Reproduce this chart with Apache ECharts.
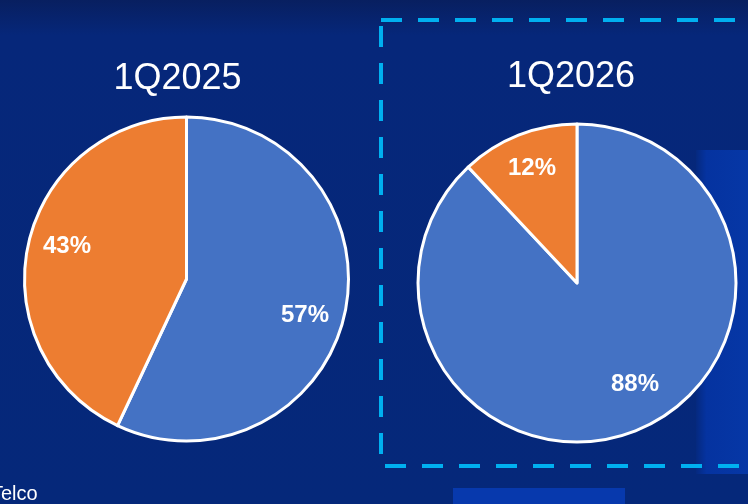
<!DOCTYPE html>
<html>
<head>
<meta charset="utf-8">
<script src="https://cdn.jsdelivr.net/npm/echarts@6/dist/echarts.min.js"></script>
<style>
html,body{margin:0;padding:0;background:#05287a;}
#c{width:748px;height:504px;}
</style>
</head>
<body>
<div id="c"></div>
<script>
// Data
var periods = ['1Q2025', '1Q2026'];
var segmentNames = ['Blue segment', 'Orange segment'];
var values2025 = [57, 43];
var values2026 = [88, 12];
var footnote = 'Telco';

var BLUE = '#4472c4', ORANGE = '#ed7d31';

function pieData(vals) {
  return vals.map(function (v, i) {
    return { name: segmentNames[i], value: v, itemStyle: { color: i === 0 ? BLUE : ORANGE } };
  });
}
function labelData(vals, offs) {
  return vals.map(function (v, i) {
    return { name: segmentNames[i], value: v, label: { offset: offs[i] } };
  });
}

var pies = [
  { center: [186.5, 279], r: 162, vals: values2025, offs: [[-3, 9], [2, -5]] },
  { center: [577, 283], r: 159, vals: values2026, offs: [[13, -12], [0, -1]] }
];

var series = [];
pies.forEach(function (p) {
  series.push({
    type: 'pie',
    center: p.center,
    radius: [0, p.r],
    startAngle: 90,
    clockwise: true,
    silent: true,
    animation: false,
    label: { show: false },
    labelLine: { show: false },
    itemStyle: { borderColor: '#ffffff', borderWidth: 3 },
    data: pieData(p.vals)
  });
  series.push({
    type: 'pie',
    center: p.center,
    radius: [p.r * 0.5, p.r],
    startAngle: 90,
    clockwise: true,
    silent: true,
    animation: false,
    itemStyle: { color: 'rgba(0,0,0,0)', borderWidth: 0 },
    label: {
      show: true,
      position: 'inside',
      formatter: '{c}%',
      color: '#ffffff',
      fontFamily: 'Liberation Sans, Arial, sans-serif',
      fontWeight: 'bold',
      fontSize: 24
    },
    labelLine: { show: false },
    data: labelData(p.vals, p.offs)
  });
});

var chart = echarts.init(document.getElementById('c'), null, { renderer: 'canvas' });
chart.setOption({
  backgroundColor: {
    type: 'linear', x: 0, y: 0, x2: 0, y2: 1,
    colorStops: [
      { offset: 0, color: '#081f60' },
      { offset: 0.07, color: '#06277a' },
      { offset: 1, color: '#05287a' }
    ]
  },
  animation: false,
  graphic: [
    { type: 'rect', z: -10, shape: { x: 696, y: 150, width: 52, height: 324 },
      style: { fill: { type: 'linear', x: 0, y: 0, x2: 1, y2: 0, colorStops: [
        { offset: 0, color: '#05297f' }, { offset: 0.2, color: '#0533a0' }, { offset: 1, color: '#0637a6' }] } } },
    { type: 'rect', z: -10, shape: { x: 453, y: 488, width: 172, height: 16 },
      style: { fill: '#0739ad' } },
    { type: 'rect', z: 5, shape: { x: 381, y: 20, width: 400, height: 446 },
      style: { fill: 'none', stroke: '#00b0f0', lineWidth: 4, lineDash: [21, 16] } },
    { type: 'text', z: 10, x: 177.5, y: 79,
      style: { text: periods[0], fill: '#ffffff', font: '36px "Liberation Sans", Arial, sans-serif',
        textAlign: 'center', textVerticalAlign: 'middle', align: 'center', verticalAlign: 'middle' } },
    { type: 'text', z: 10, x: 571, y: 77,
      style: { text: periods[1], fill: '#ffffff', font: '36px "Liberation Sans", Arial, sans-serif',
        textAlign: 'center', textVerticalAlign: 'middle', align: 'center', verticalAlign: 'middle' } },
    { type: 'text', z: 10, x: -9, y: 494,
      style: { text: footnote, fill: '#ffffff', font: '20px "Liberation Sans", Arial, sans-serif',
        textAlign: 'left', textVerticalAlign: 'middle', align: 'left', verticalAlign: 'middle' } }
  ],
  series: series
});
</script>
</body>
</html>
